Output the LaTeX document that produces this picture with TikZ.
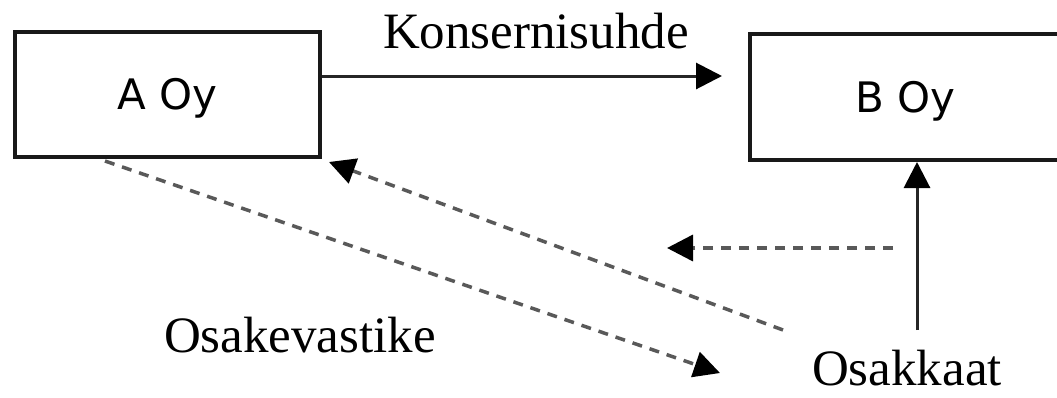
\documentclass[tikz,border=0pt]{standalone}
\usepackage{fontspec}
\setmainfont{Liberation Serif}
\newfontfamily\boxfont{DejaVu Sans}
\usetikzlibrary{arrows.meta}
\begin{document}
\begin{tikzpicture}[x=1pt,y=-1pt,
  entity/.style={draw=black!90, line width=4pt, fill=white, inner sep=0pt,
    font=\boxfont\fontsize{42}{50}\selectfont, text height=30pt, text depth=0pt},
  lbl/.style={font=\fontsize{51}{60}\selectfont, inner sep=0pt, anchor=base},
  head/.style={-{Triangle[length=26pt,width=26pt,color=black]}},
  solidarrow/.style={head, draw=black!85, line width=3pt},
  dasharrow/.style={head, draw=black!65, line width=3.5pt, dash pattern=on 10pt off 8pt}
]
\clip (0,0) rectangle (1057,397);
\fill[white] (0,0) rectangle (1057,397);

\node[entity, minimum width=305pt, minimum height=125pt] (A) at (167.5,94.5) {A Oy};
\node[entity, minimum width=313pt, minimum height=126pt, text width=313pt, align=left] (B) at (906.5,97) {\hspace{105pt}B Oy};

\node[lbl] (kon) at (536,48) {Konsernisuhde};
\node[lbl] (osv) at (300,352) {Osakevastike};
\node[lbl] (osk) at (907,385) {Osakkaat};

\coordinate (ktip) at (722,76);
\coordinate (vbot) at (917,330);
\coordinate (d1s) at (105,161);
\coordinate (d1e) at (720,373);
\coordinate (d2s) at (783,330);
\coordinate (d2e) at (329,162);
\coordinate (hs) at (893,248);
\coordinate (he) at (667,248);

\draw[solidarrow] (A.east |- ktip) -- (ktip);
\draw[solidarrow] (vbot) -- (vbot |- B.south);
\draw[dasharrow] (d1s) -- (d1e);
\draw[dasharrow] (d2s) -- (d2e);
\draw[dasharrow] (hs) -- (he);
\end{tikzpicture}
\end{document}
